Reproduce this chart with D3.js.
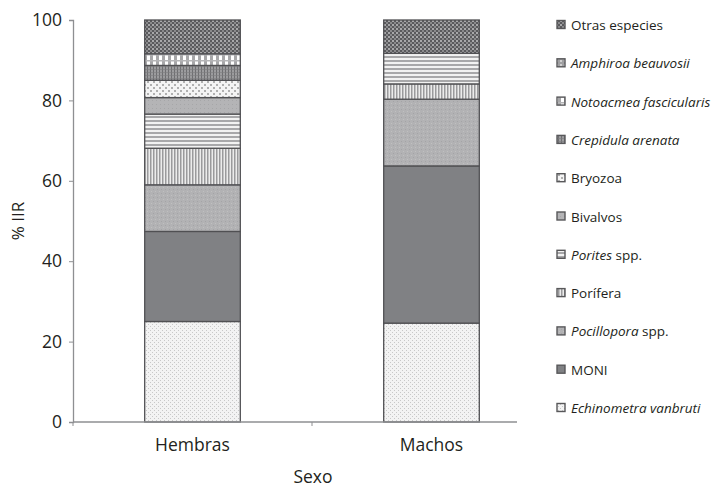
<!DOCTYPE html>
<html><head><meta charset="utf-8">
<script src="https://cdn.jsdelivr.net/npm/d3@7"></script>
<style>
body{margin:0;background:#fff;}
text{font-family:"Open Sans","Noto Sans",sans-serif;fill:#231f20;}
</style></head>
<body><svg id="c" width="722" height="489"></svg>
<script>
const categories = ["Hembras","Machos"];
const seriesNames = ["Echinometra vanbruti","MONI","Pocillopora spp.","Porífera","Porites spp.","Bivalvos","Bryozoa","Crepidula arenata","Notoacmea fascicularis","Amphiroa beauvosii","Otras especies"];
const hembras = [25.0, 22.4, 11.6, 9.1, 8.5, 4.1, 4.3, 3.7, 2.9, 0, 8.4];
const machos  = [24.6, 39.1, 16.6, 3.8, 7.6, 0, 0, 0, 0, 0, 8.3];
const yTicks = [0,20,40,60,80,100];
const xTitle = "Sexo", yTitle = "% IIR";

const svg = d3.select("#c");
const defs = svg.append("defs");
const pid = ["pEch","pMon","pPoc","pPorf","pPort","pBiv","pBry","pCre","pNot","pAmp","pOtr"];
function pat(id,w,h,bg,draw){
  const p = defs.append("pattern").attr("id",id).attr("patternUnits","userSpaceOnUse").attr("width",w).attr("height",h);
  p.append("rect").attr("width",w).attr("height",h).attr("fill",bg);
  draw(p);
}
pat("pEch",4,4,"#f3f3f3",p=>{p.append("rect").attr("x",0).attr("y",0).attr("width",1).attr("height",1).attr("fill","#c8c8c8");p.append("rect").attr("x",2).attr("y",2).attr("width",1).attr("height",1).attr("fill","#c8c8c8");});
pat("pMon",4,4,"#808184",p=>{});
pat("pPoc",4,4,"#b2b2b4",p=>{p.append("rect").attr("x",1).attr("y",1).attr("width",1).attr("height",1).attr("fill","#a4a4a6");p.append("rect").attr("x",3).attr("y",3).attr("width",1).attr("height",1).attr("fill","#c0c0c0");});
pat("pPorf",3,3,"#ececec",p=>{p.append("rect").attr("x",0).attr("y",0).attr("width",1.5).attr("height",3).attr("fill","#9a9a9c");});
pat("pPort",4,4,"#f2f2f2",p=>{p.append("rect").attr("x",0).attr("y",0).attr("width",4).attr("height",2).attr("fill","#a8a8aa");});
pat("pBiv",4,4,"#b4b4b6",p=>{p.append("rect").attr("x",0).attr("y",0).attr("width",1).attr("height",1).attr("fill","#a6a6a8");});
pat("pBry",6,6,"#f4f4f4",p=>{p.append("rect").attr("x",0).attr("y",0).attr("width",2).attr("height",2).attr("fill","#b0b0b0");p.append("rect").attr("x",3).attr("y",3).attr("width",2).attr("height",2).attr("fill","#b0b0b0");});
pat("pCre",3,3,"#9c9c9e",p=>{p.append("rect").attr("x",0).attr("y",0).attr("width",1).attr("height",3).attr("fill","#6f6f72");p.append("rect").attr("x",0).attr("y",0).attr("width",3).attr("height",0.6).attr("fill","#7c7c7e");});
pat("pNot",6,6,"#ffffff",p=>{p.append("rect").attr("x",0).attr("y",0).attr("width",3).attr("height",6).attr("fill","#a7a7a9");p.append("rect").attr("x",0).attr("y",0).attr("width",6).attr("height",1.5).attr("fill","#b5b5b7");});
pat("pAmp",4,4,"#a0a0a2",p=>{p.append("rect").attr("x",0).attr("y",0).attr("width",2).attr("height",2).attr("fill","#d0d0d0");});
pat("pOtr",4,4,"#5a5a5d",p=>{p.append("rect").attr("x",0).attr("y",0).attr("width",2).attr("height",2).attr("fill","#a8a8aa");p.append("rect").attr("x",2).attr("y",2).attr("width",2).attr("height",2).attr("fill","#8a8a8c");});

const x = d3.scaleBand().domain(categories).range([73,551]).paddingInner(0.6).paddingOuter(0.3);
const y = d3.scaleLinear().domain([0,100]).range([422,20]);

const rows = categories.map((c,i)=>{const o={cat:c};const v=i===0?hembras:machos;seriesNames.forEach((s,j)=>o[s]=v[j]);return o;});
const stack = d3.stack().keys(seriesNames)(rows);

// y axis
const axisCol = "#8e8f92";
const gy = svg.append("g").attr("transform","translate(73,0)").call(d3.axisLeft(y).tickValues(yTicks).tickSize(4).tickPadding(7));
gy.select(".domain").attr("stroke",axisCol).attr("stroke-width",1.3);
gy.selectAll(".tick line").attr("stroke",axisCol);
gy.selectAll(".tick text").style("font-size","17.5px").style("font-family","'Open Sans',sans-serif").attr("fill","#231f20");

// bars
stack.forEach((layer,k)=>{
  svg.append("g").selectAll("rect").data(layer.filter(d=>d[1]-d[0]>0)).join("rect")
    .attr("x",d=>x(d.data.cat)).attr("width",x.bandwidth())
    .attr("y",d=>y(d[1])).attr("height",d=>y(d[0])-y(d[1]))
    .attr("fill","url(#"+pid[k]+")").attr("stroke","#505053").attr("stroke-width",1.3);
});

// x axis
const x0 = x.range()[0];
svg.append("line").attr("x1",x0).attr("x2",517).attr("y1",y(0)).attr("y2",y(0)).attr("stroke",axisCol).attr("stroke-width",1.3);
[0,1].forEach(i=>{const xx=x0+i*x.step();svg.append("line").attr("x1",xx).attr("x2",xx).attr("y1",y(0)).attr("y2",y(0)+4).attr("stroke",axisCol);});
svg.selectAll(".xl").data(categories).join("text").attr("class","xl")
  .attr("x",d=>x(d)+x.bandwidth()/2).attr("y",451).attr("text-anchor","middle").style("font-size","17.5px").text(d=>d);
svg.append("text").attr("x",313).attr("y",483).attr("text-anchor","middle").style("font-size","17.5px").text(xTitle);
svg.append("text").attr("transform","translate(24,221) rotate(-90)").attr("text-anchor","middle").style("font-size","17px").text(yTitle);

// legend
const italic = [true,false,true,false,true,false,false,true,true,true,false];
const leg = svg.append("g");
const order = seriesNames.map((s,i)=>i).reverse();
order.forEach((k,idx)=>{
  const cy = 25 + idx*38.3;
  leg.append("rect").attr("x",557).attr("y",cy-4.5).attr("width",8).attr("height",8).attr("fill","url(#"+pid[k]+")").attr("stroke","#58585a").attr("stroke-width",1.4);
  const t = leg.append("text").attr("x",571).attr("y",cy+5).style("font-size","13.5px");
  const name = seriesNames[k];
  if(name.endsWith(" spp.")){
    t.append("tspan").style("font-style","italic").text(name.replace(" spp.",""));
    t.append("tspan").text(" spp.");
  } else {
    t.style("font-style", italic[k]?"italic":"normal").text(name);
  }
});
</script></body></html>
